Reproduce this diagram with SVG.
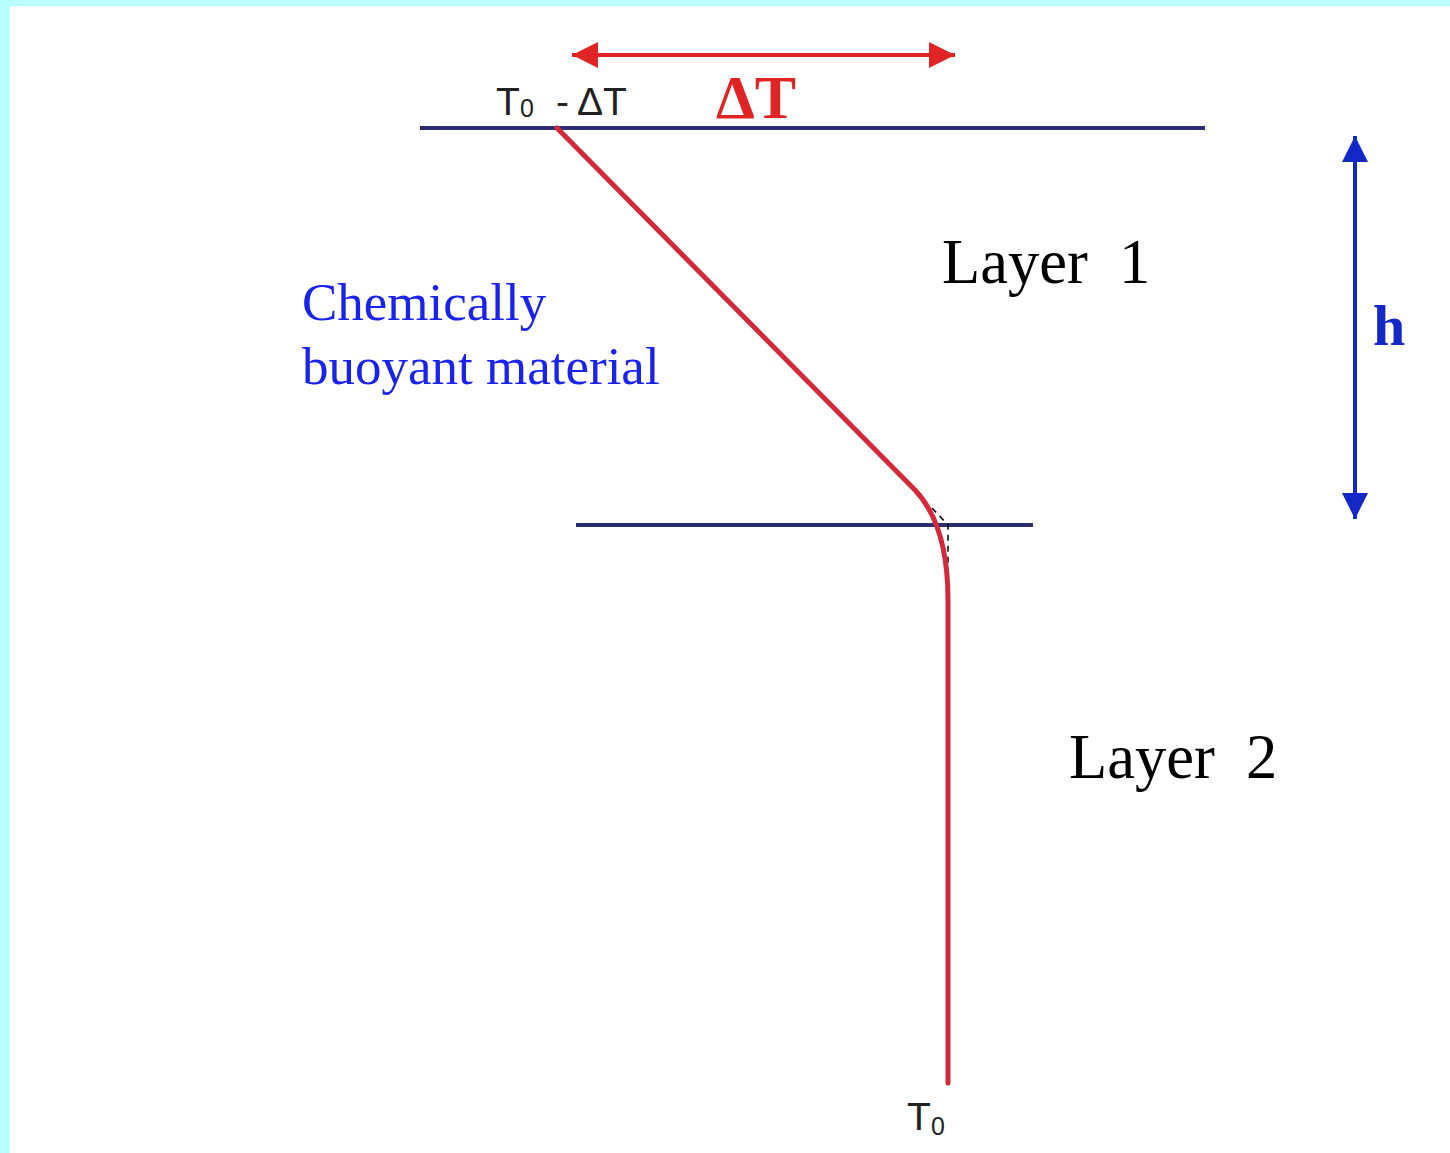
<svg xmlns="http://www.w3.org/2000/svg" width="1450" height="1153" viewBox="0 0 1450 1153">
<style>
.lay{stroke:#2b2d6e;stroke-width:4;fill:none}
.prof{stroke:#d4293a;stroke-width:5;fill:none;stroke-linecap:round;stroke-linejoin:round}
.lbl{font-family:"Liberation Serif",serif;fill:#000;font-size:62.5px;white-space:pre}
.sans{font-family:"Liberation Sans",Arial,sans-serif;fill:#222;font-size:39px}
.sub{font-family:"Liberation Sans",Arial,sans-serif;fill:#222;font-size:25px}
.chem{font-family:"Liberation Serif",serif;fill:#1a22f0;font-size:53px}
</style>
<defs>
<marker id="ar" viewBox="0 0 10 10" refX="10" refY="5" markerWidth="26" markerHeight="26" markerUnits="userSpaceOnUse" orient="auto-start-reverse">
<path d="M0,0 L10,5 L0,10 Z" fill="#e02424"/>
</marker>
<marker id="ab" viewBox="0 0 10 10" refX="10" refY="5" markerWidth="26" markerHeight="26" markerUnits="userSpaceOnUse" orient="auto-start-reverse">
<path d="M0,0 L10,5 L0,10 Z" fill="#1428c8"/>
</marker>
</defs>
<rect x="0" y="0" width="1450" height="1153" fill="#b8ffff"/>
<rect x="10" y="6" width="1440" height="1147" fill="#ffffff"/>
<g id="layers">
<line class="lay" x1="420" y1="128" x2="1205" y2="128"/>
<line class="lay" x1="576" y1="525" x2="1033" y2="525"/>
</g>
<g id="connectors">
<path d="M932,508 L948,525 L948,600" stroke="#000" stroke-width="1.5" stroke-dasharray="6,5" fill="none"/>
<path class="prof" d="M557,128 L915,490 Q948,525 948,600 L948,1083"/>
<line x1="572" y1="55" x2="955" y2="55" stroke="#e02424" stroke-width="4" marker-start="url(#ar)" marker-end="url(#ar)"/>
<line x1="1355" y1="136" x2="1355" y2="519" stroke="#1428c8" stroke-width="4" marker-start="url(#ab)" marker-end="url(#ab)"/>
</g>
<g id="labels">
<text class="sans" x="496" y="115">T</text>
<text class="sub" x="520" y="117">0</text>
<text class="sans" x="556" y="115">-</text>
<text class="sans" x="577" y="115">ΔT</text>
<text x="716" y="118" font-family="Liberation Serif,serif" font-weight="bold" font-size="62" fill="#e02424">ΔT</text>
<text class="lbl" x="942" y="283" xml:space="preserve">Layer  1</text>
<text class="lbl" x="1069" y="778" xml:space="preserve">Layer  2</text>
<text class="chem" x="302" y="320">Chemically</text>
<text class="chem" x="302" y="384">buoyant material</text>
<text x="1373" y="345" font-family="Liberation Serif,serif" font-weight="bold" font-size="58" fill="#1428c8">h</text>
<text class="sans" x="907" y="1130">T</text>
<text class="sub" x="931" y="1135">0</text>
</g>
</svg>
